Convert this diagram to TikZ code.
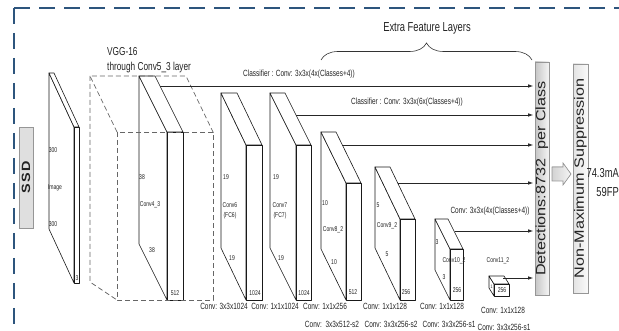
\documentclass[tikz,border=0pt]{standalone}
\usepackage{fontspec}
\setmainfont{Liberation Sans}
\newfontfamily\narrowfont[FakeStretch=0.72]{Liberation Sans}
\newfontfamily\widefont[FakeStretch=1.2]{Liberation Sans}
\usetikzlibrary{arrows.meta,decorations.pathreplacing}
\definecolor{frameB}{RGB}{45,85,125}
\definecolor{boxG}{RGB}{150,150,150}
\definecolor{txtK}{RGB}{35,35,35}
% feature map: front face (#1,#2)-(#3,#4), depth offset #5,#6 towards the upper left
\newcommand{\fmap}[6]{%
  \filldraw[mapline] (#1,#2) -- ++({-(#5)},{-(#6)}) -- ++(0,{#4-#2}) -- (#1,#4) -- cycle;
  \filldraw[mapline] (#1,#2) -- ++({-(#5)},{-(#6)}) -- ++({#3-#1},0) -- (#3,#2) -- cycle;
  \filldraw[mapline] (#1,#2) rectangle (#3,#4);}

\begin{document}
\begin{tikzpicture}[x=1pt,y=-1pt,>={Latex[length=5pt,width=3.5pt]},
  mapline/.style={fill=white,draw=black!90,line width=0.6pt,line join=round},
  vggline/.style={draw=black!60,line width=0.7pt,dash pattern=on 5pt off 3pt},
  frameline/.style={draw=frameB,line width=1.7pt,dash pattern=on 16pt off 9pt},
  feed/.style={->,line width=0.7pt,draw=black!85,shorten >=1.5pt},
  tinylbl/.style={font=\narrowfont\fontsize{7}{7}\selectfont,text=txtK,inner sep=0pt},
  convlbl/.style={font=\narrowfont\fontsize{9}{9}\selectfont,text=txtK,inner sep=0pt},
  sidebox/.style={draw=boxG,line width=0.6pt,inner sep=0pt,text=txtK,font=\widefont\fontsize{13.5}{13.5}\selectfont}]
\useasboundingbox (0,0) rectangle (619,331);
% outer frame
\draw[frameline] (14,8) -- (619,8);
\draw[frameline] (14,8) -- (14,331);
% SSD tag
\node[sidebox,fill=gray!25,minimum width=14pt,minimum height=101pt,font=\widefont\bfseries\fontsize{12}{12}\selectfont] (ssd) at (26,177.5) {\rotatebox{90}{\addfontfeature{LetterSpace=12}SSD}};
% input image
\fmap{74}{127}{79}{283}{25}{54}
\node[tinylbl] (im1) at (53,150) {300};
\node[tinylbl] (im2) at (55,188) {Image};
\node[tinylbl] (im3) at (53,224) {300};
\node[tinylbl] (im4) at (77,278) {3};
% VGG-16 part with Conv4_3
\fmap{167}{132}{183}{300}{28}{56}
\draw[vggline] (117,132) rectangle (213,300);
\draw[vggline] (117,132) -- (90,76) -- (186,76) -- (213,132);
\draw[vggline] (90,76) -- (90,282) -- (117,300);
\node[font=\narrowfont\fontsize{11.5}{15}\selectfont,align=left,anchor=west,inner sep=0pt,text=txtK] (vgg) at (107,60.5) {VGG-16\\through Conv5\_3 layer};
\node[tinylbl] (c4a) at (142,177) {38};
\node[tinylbl] (c4b) at (150,205) {Conv4\_3};
\node[tinylbl] (c4c) at (152,250) {38};
\node[tinylbl] (c4d) at (175,293) {512};
% Conv6 (FC6)
\fmap{246}{145}{262}{300}{25}{52}
\node[tinylbl] (c6a) at (226,177) {19};
\node[tinylbl,align=center] (c6b) at (230,210.5) {Conv6\\[3pt](FC6)};
\node[tinylbl] (c6c) at (232,258) {19};
\node[tinylbl] (c6d) at (255,293) {1024};
% Conv7 (FC7)
\fmap{296}{145}{311}{300}{26}{52}
\node[tinylbl] (c7a) at (276,177) {19};
\node[tinylbl,align=center] (c7b) at (280,210.5) {Conv7\\[3pt](FC7)};
\node[tinylbl] (c7c) at (281,258) {19};
\node[tinylbl] (c7d) at (304,293) {1024};
% extra feature layers
\fmap{346}{183}{361}{300}{25}{51}
\node[tinylbl] (c8a) at (325,203) {10};
\node[tinylbl] (c8b) at (333,230) {Conv8\_2};
\node[tinylbl] (c8c) at (334,262) {10};
\node[tinylbl] (c8d) at (353,292) {512};
\fmap{400}{219}{415}{300}{25}{52}
\node[tinylbl] (c9a) at (378,205) {5};
\node[tinylbl] (c9b) at (387,226) {Conv9\_2};
\node[tinylbl] (c9c) at (387,254) {5};
\node[tinylbl] (c9d) at (406,292) {256};
\fmap{450}{249}{463}{300}{15}{30}
\node[tinylbl] (c10a) at (437,242) {3};
\node[tinylbl] (c10b) at (454,261) {Conv10\_2};
\node[tinylbl] (c10c) at (444,277) {3};
\node[tinylbl] (c10d) at (457,290) {256};
\fmap{494}{284}{509}{296}{5}{8}
\node[tinylbl] (c11a) at (498,261) {Conv11\_2};
\node[tinylbl,font=\narrowfont\fontsize{5}{5}\selectfont] (c11b) at (491.5,287) {1};
\node[tinylbl] (c11c) at (502,290) {256};
% detections and NMS
\node[sidebox,left color=gray!45,right color=gray!8,minimum width=14pt,minimum height=233pt] (det) at (542,178.5) {\rotatebox{90}{Detections:8732\ \ per Class}};
\node[sidebox,left color=gray!22,right color=gray!4,minimum width=15pt,minimum height=229pt] (nms) at (580.5,178.5) {\rotatebox{90}{Non-Maximum Suppression}};
\filldraw[draw=boxG,line width=0.6pt,left color=gray!35,right color=gray!8] (552,167) -- (563,167) -- (563,163) -- (571,174) -- (563,185) -- (563,181) -- (552,181) -- cycle;
\node[font=\narrowfont\fontsize{13}{13}\selectfont,anchor=east,inner sep=0pt,text=txtK] (map) at (619,173) {74.3mA};
\node[font=\narrowfont\fontsize{13}{13}\selectfont,anchor=east,inner sep=0pt,text=txtK] (fps) at (619,192) {59FP};
% classifiers
\coordinate (o1) at (160,86);
\coordinate (o2) at (296,115);
\coordinate (o3) at (342,145);
\coordinate (o4) at (398,183);
\coordinate (o5) at (455,231);
\coordinate (o6) at (503,278);
\foreach \o in {o1,o2,o3,o4,o5,o6}
  \draw[feed] (\o) -- (\o -| det.west);
\node[convlbl] (cl1) at (299,74) {Classifier : Conv: 3x3x(4x(Classes+4))};
\node[convlbl] (cl2) at (407,102) {Classifier : Conv: 3x3x(6x(Classes+4))};
\node[convlbl] (cl3) at (490,211) {Conv: 3x3x(4x(Classes+4))};
\draw[line width=0.6pt,black!80,decorate,decoration={brace,amplitude=17pt}] (321,60) -- (532,60);
\node[font=\narrowfont\fontsize{13}{13}\selectfont,inner sep=0pt,text=txtK] (efl) at (427,28) {Extra Feature Layers};
% layer settings
\node[convlbl] (s1) at (224,306) {Conv: 3x3x1024};
\node[convlbl] (s2) at (275,306) {Conv: 1x1x1024};
\node[convlbl] (s3) at (325,306) {Conv: 1x1x256};
\node[convlbl] (s4) at (332,324) {Conv:\ \ 3x3x512-s2};
\node[convlbl] (s5) at (385,306) {Conv: 1x1x128};
\node[convlbl] (s6) at (391,324) {Conv: 3x3x256-s2};
\node[convlbl] (s7) at (442,306) {Conv: 1x1x128};
\node[convlbl] (s8) at (449,324) {Conv: 3x3x256-s1};
\node[convlbl] (s9) at (503,310) {Conv: 1x1x128};
\node[convlbl] (s10) at (504,327) {Conv: 3x3x256-s1};
\end{tikzpicture}
\end{document}
